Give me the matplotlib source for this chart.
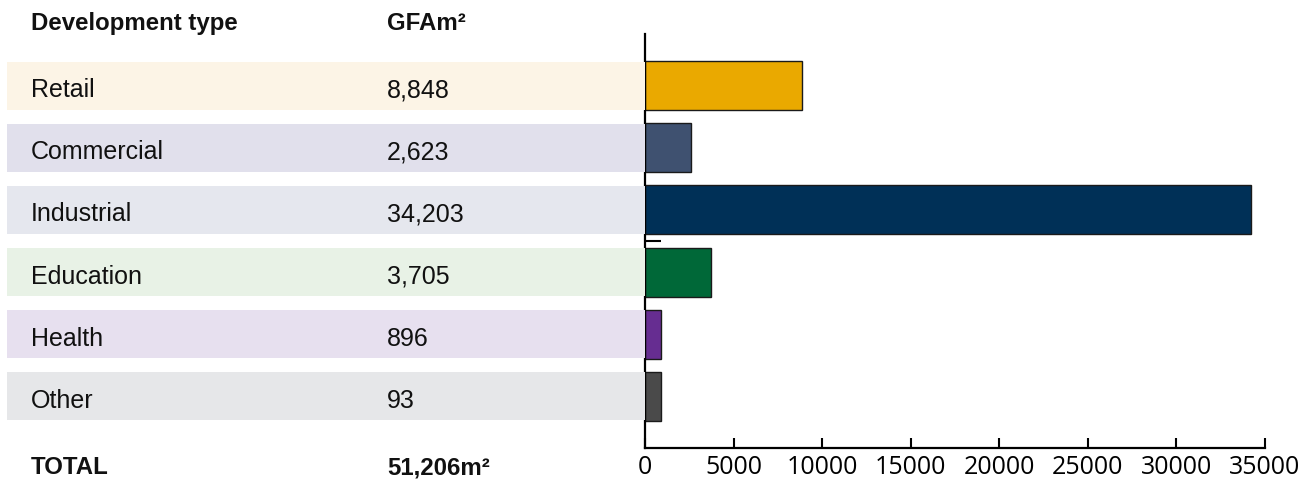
import matplotlib
matplotlib.use('Agg')
import matplotlib.pyplot as plt

# data
categories = ['Retail', 'Commercial', 'Industrial', 'Education', 'Health', 'Other']
gfa_values = [8848, 2623, 34203, 3705, 896, 93]
bar_values = [8848, 2623, 34203, 3705, 896, 900]   # "Other" bar is drawn at ~900 in the picture
total_label = '51,206m²'
xticks = [0, 5000, 10000, 15000, 20000, 25000, 30000, 35000]

bar_colors = ['#EAA900', '#3F5170', '#003057', '#006838', '#662D91', '#4A4A4A']
band_colors = ['#FCF4E6', '#E1E0EC', '#E5E7EE', '#E8F2E6', '#E7E0EF', '#E6E7E9']

W, H = 1311, 480
fig = plt.figure(figsize=(W / 100, H / 100), dpi=100)

# axes placement in pixels
x0, x1 = 645, 1265
ytop, ybot = 34, 448
ax = fig.add_axes([x0 / W, 1 - ybot / H, (x1 - x0) / W, (ybot - ytop) / H])
tab = fig.add_axes([0, 1 - ybot / H, x0 / W, (ybot - ytop) / H], sharey=ax)

ypos = list(range(len(categories)))

ax.barh(ypos, bar_values, height=0.79, color=bar_colors, edgecolor='#1a1a1a', linewidth=1.0)
ax.set_xlim(0, 35000)
ax.set_ylim(5.83, -0.83)
ax.set_xticks(xticks)
ax.set_xticklabels([str(t) for t in xticks], fontfamily='Open Sans', fontsize=18)
ax.set_yticks([2.5])
ax.set_yticklabels([''])
ax.tick_params(axis='x', direction='in', length=7.5, width=1.5, pad=5)
ax.tick_params(axis='y', direction='in', length=11.5, width=1.5)
for s in ['top', 'right']:
    ax.spines[s].set_visible(False)
for s in ['left', 'bottom']:
    ax.spines[s].set_linewidth(1.6)
ax.patch.set_alpha(0)

# table side
tab.set_xlim(0, x0)
tab.axis('off')
tab.barh(ypos, [x0 - 7] * len(categories), left=7, height=0.77, color=band_colors, zorder=0)

font = dict(fontfamily='Liberation Sans', fontsize=18, color='#111111')
bold = {**font, 'fontsize': 17.3, 'fontweight': 'bold'}
c1, c2 = 31, 387
tab.text(c1, -0.89, 'Development type', va='baseline', **bold)
tab.text(c2, -0.89, 'GFAm²', va='baseline', **bold)
for i, (cat, v) in enumerate(zip(categories, gfa_values)):
    tab.text(c1, i + 0.185, cat, va='baseline', **font)
    tab.text(c2, i + 0.185, f'{v:,}', va='baseline', **font)
tab.text(c1, 6.25, 'TOTAL', va='baseline', **bold)
tab.text(c2, 6.25, total_label, va='baseline', **bold)

fig.savefig('out.png', dpi=100)
